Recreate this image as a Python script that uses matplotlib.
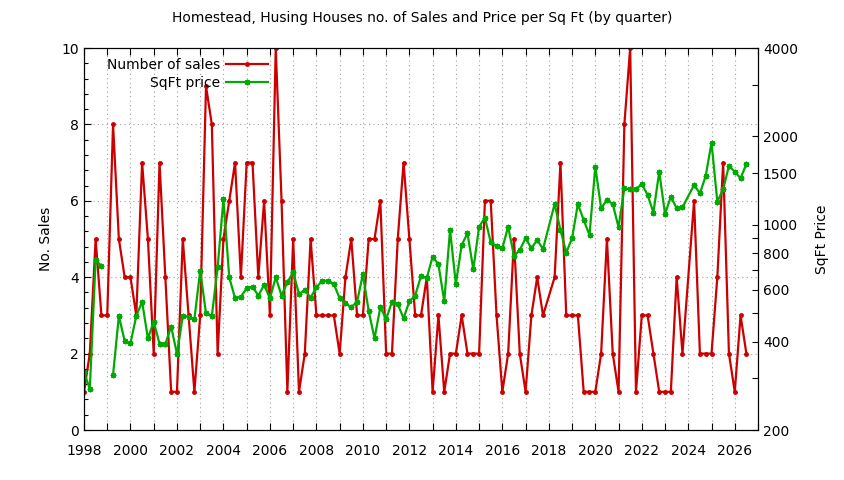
import numpy as np
import matplotlib
matplotlib.use("Agg")
import matplotlib.pyplot as plt
from matplotlib.ticker import MultipleLocator, AutoMinorLocator, FixedLocator, FuncFormatter, NullFormatter

# quarters with data (2018Q1 and 2024Q1 have no row at all)
quarters = [f"{y}Q{q}" for y in range(1998, 2027) for q in range(1, 5)]
quarters = [s for s in quarters if s not in ("2018Q1", "2024Q1")][:-1]

# number of sales per quarter
sales = [
    1, 2, 5, 3,   3, 8, 5, 4,   4, 3, 7, 5,   2, 7, 4, 1,
    1, 5, 3, 1,   3, 9, 8, 2,   5, 6, 7, 4,   7, 7, 4, 6,
    3, 10, 6, 1,  5, 1, 2, 5,   3, 3, 3, 3,   2, 4, 5, 3,
    3, 5, 5, 6,   2, 2, 5, 7,   5, 3, 3, 4,   1, 3, 1, 2,
    2, 3, 2, 2,   2, 6, 6, 3,   1, 2, 5, 2,   1, 3, 4, 3,
    4, 7, 3,      3, 3, 1, 1,   1, 2, 5, 2,   1, 8, 10, 1,
    3, 3, 2, 1,   1, 1, 4, 2,   6, 2, 2,      2, 4, 7, 2,
    1, 3, 2,
]

# price per sq ft (nan = blank value, line breaks there)
price = [
    315, 276, 759, 724,     np.nan, 308, 489, 402,   395, 489, 547, 410,   468, 393, 393, 450,
    363, 489, 487, 477,     698, 499, 489, 716,      1222, 662, 562, 569,  608, 615, 574, 624,
    562, 662, 574, 637,     689, 581, 600, 565,      612, 645, 645, 628,   562, 540, 524, 547,
    679, 508, 410, 524,     477, 547, 537, 480,      549, 574, 669, 660,   779, 733, 549, 960,
    628, 853, 935, 705,     985, 1057, 871, 847,     832, 985, 783, 821,   900, 832, 887, 827,
    1177, 960, 804,         900, 1177, 1038, 923,    1577, 1138, 1215, 1177, 981, 1331, 1321, 1321,
    1377, 1263, 1100, 1516, 1088, 1247, 1138, 1147,  1366, 1280, 1466,     1904, 1198, 1321, 1586,
    1516, 1440, 1610,
]

x = [int(s[:4]) + (int(s[5]) - 1) / 4 for s in quarters]

red = "#cc0000"
green = "#00aa00"

plt.rcParams["font.family"] = "DejaVu Sans"
plt.rcParams["font.size"] = 10

fig = plt.figure(figsize=(8.44, 4.8), dpi=100)
ax = fig.add_axes([84 / 844, 1 - 430 / 480, (758 - 84) / 844, (430 - 48) / 480])
ax2 = ax.twinx()

l1, = ax.plot(x, sales, color=red, lw=1.6, marker="o", ms=2.5, label="Number of sales")
l2, = ax2.plot(x, price, color=green, lw=1.6, marker=(8, 2, 0), ms=4, mew=1.0,
               label="SqFt price")

ax.set_xlim(1998, 2027)
ax.set_ylim(0, 10)
ax2.set_yscale("log")
ax2.set_ylim(200, 4000)

# x axis: tick each year, label even years
ax.xaxis.set_major_locator(MultipleLocator(1))
ax.xaxis.set_major_formatter(FuncFormatter(lambda v, p: f"{int(round(v))}" if int(round(v)) % 2 == 0 else ""))
ax.yaxis.set_major_locator(MultipleLocator(2))
ax.yaxis.set_minor_locator(AutoMinorLocator(5))
ax.tick_params(axis="both", which="both", direction="in", top=True, right=False)
ax.tick_params(axis="both", which="major", length=5, width=0.8)
ax.tick_params(axis="y", which="minor", length=3, width=0.8)
ax.tick_params(axis="x", which="major", pad=10)

ax2.yaxis.set_major_locator(FixedLocator([200, 400, 600, 800, 1000, 1500, 2000, 4000]))
ax2.yaxis.set_major_formatter(FuncFormatter(lambda v, p: f"{int(v)}"))
ax2.yaxis.set_minor_locator(FixedLocator([300, 500, 700, 900, 3000]))
ax2.yaxis.set_minor_formatter(NullFormatter())
ax2.tick_params(axis="y", which="both", direction="in", length=4, width=0.8)

ax.grid(True, which="major", color="#a0a0a0", linestyle=(0, (1, 3)), linewidth=0.8)

ax.set_ylabel("No. Sales", labelpad=6)
ax2.set_ylabel("SqFt Price", labelpad=12)
fig.suptitle("Homestead, Husing Houses no. of Sales and Price per Sq Ft (by quarter)",
             y=1 - 18 / 480, va="center", fontsize=10)

leg = ax2.legend(handles=[l1, l2], loc="upper right", bbox_to_anchor=(0.287, 1.0),
                 frameon=False, markerfirst=False, numpoints=1, handlelength=3.0,
                 handletextpad=0.4, labelspacing=0.3, borderaxespad=0.3)

fig.savefig("out.png", dpi=100)
